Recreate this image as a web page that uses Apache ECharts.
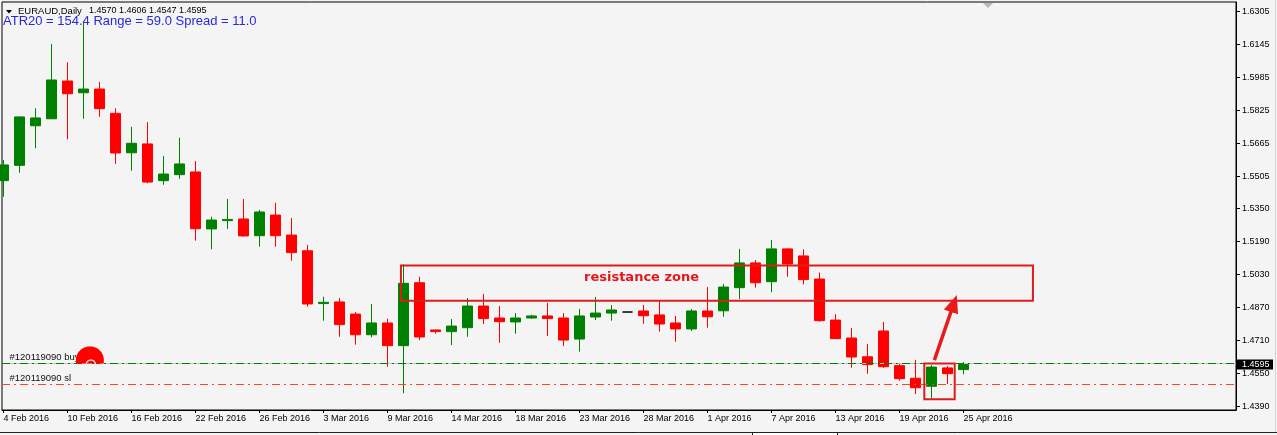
<!DOCTYPE html>
<html><head><meta charset="utf-8">
<script src="https://cdn.jsdelivr.net/npm/echarts@6/dist/echarts.min.js"></script>
<style>html,body{margin:0;padding:0;background:#f4f4f4;overflow:hidden}#c{width:1277px;height:435px}</style>
</head><body><div id="c"></div><script>
// ---- data ----
const dates = ['4 Feb 2016','5 Feb 2016','8 Feb 2016','9 Feb 2016','10 Feb 2016','11 Feb 2016','12 Feb 2016','15 Feb 2016','16 Feb 2016','17 Feb 2016','18 Feb 2016','19 Feb 2016','22 Feb 2016','23 Feb 2016','24 Feb 2016','25 Feb 2016','26 Feb 2016','29 Feb 2016','1 Mar 2016','2 Mar 2016','3 Mar 2016','4 Mar 2016','7 Mar 2016','8 Mar 2016','9 Mar 2016','10 Mar 2016','11 Mar 2016','13 Mar 2016','14 Mar 2016','15 Mar 2016','16 Mar 2016','17 Mar 2016','18 Mar 2016','20 Mar 2016','21 Mar 2016','22 Mar 2016','23 Mar 2016','24 Mar 2016','25 Mar 2016','27 Mar 2016','28 Mar 2016','29 Mar 2016','30 Mar 2016','31 Mar 2016','1 Apr 2016','4 Apr 2016','5 Apr 2016','6 Apr 2016','7 Apr 2016','8 Apr 2016','11 Apr 2016','12 Apr 2016','13 Apr 2016','14 Apr 2016','15 Apr 2016','18 Apr 2016','19 Apr 2016','20 Apr 2016','21 Apr 2016','22 Apr 2016','25 Apr 2016'];
const opens  = [1.5486,1.5560,1.5752,1.5786,1.5969,1.5912,1.5930,1.5812,1.5621,1.5664,1.5486,1.5515,1.5528,1.5252,1.5292,1.5300,1.5219,1.5319,1.5222,1.5146,1.4890,1.4898,1.4839,1.4739,1.4796,1.4686,1.4991,1.4762,1.4754,1.4773,1.4878,1.4820,1.4801,1.4820,1.4830,1.4820,1.4718,1.4825,1.4844,1.4849,1.4854,1.4835,1.4796,1.4767,1.4854,1.4855,1.4967,1.5087,1.4996,1.5155,1.5121,1.5009,1.4810,1.4723,1.4632,1.4757,1.4589,1.4528,1.4489,1.4578,1.4570];
const highs  = [1.5586,1.5797,1.5837,1.6148,1.6060,1.6255,1.5964,1.5837,1.5747,1.5770,1.5605,1.5694,1.5581,1.5311,1.5397,1.5397,1.5344,1.5379,1.5305,1.5174,1.4923,1.4917,1.4849,1.4888,1.4817,1.5080,1.5020,1.4764,1.4815,1.4917,1.4936,1.4878,1.4844,1.4836,1.4894,1.4844,1.4864,1.4922,1.4883,1.4850,1.4883,1.4902,1.4830,1.4864,1.4970,1.4985,1.5155,1.5101,1.5198,1.5158,1.5153,1.5040,1.4839,1.4771,1.4694,1.4801,1.4600,1.4616,1.4592,1.4587,1.4606];
const lows   = [1.5408,1.5524,1.5643,1.5784,1.5686,1.5786,1.5796,1.5567,1.5534,1.5473,1.5466,1.5495,1.5195,1.5153,1.5252,1.5214,1.5166,1.5166,1.5098,1.4875,1.4807,1.4729,1.4691,1.4726,1.4584,1.4455,1.4713,1.4744,1.4689,1.4729,1.4791,1.4700,1.4744,1.4817,1.4733,1.4684,1.4657,1.4810,1.4807,1.4848,1.4792,1.4754,1.4705,1.4757,1.4773,1.4826,1.4912,1.4967,1.4945,1.5020,1.4983,1.4802,1.4717,1.4579,1.4549,1.4578,1.4516,1.4452,1.4431,1.4500,1.4547];
const closes = [1.5562,1.5795,1.5790,1.5974,1.5907,1.5930,1.5835,1.5620,1.5667,1.5479,1.5518,1.5567,1.5253,1.5295,1.5298,1.5218,1.5334,1.5219,1.5137,1.4888,1.4896,1.4788,1.4739,1.4796,1.4686,1.4988,1.4728,1.4754,1.4781,1.4878,1.4817,1.4802,1.4820,1.4830,1.4817,1.4713,1.4830,1.4844,1.4859,1.4849,1.4831,1.4791,1.4767,1.4854,1.4826,1.4970,1.5087,1.4991,1.5155,1.5082,1.5006,1.4807,1.4720,1.4631,1.4594,1.4584,1.4526,1.4482,1.4582,1.4550,1.4595];
const priceTicks = [1.4390,1.4550,1.4710,1.4870,1.5030,1.5190,1.5350,1.5505,1.5665,1.5825,1.5985,1.6145,1.6305];
const dateTickIdx = [0,4,8,12,16,20,24,28,32,36,40,44,48,52,56,60];
const symbolName = 'EURAUD,Daily';
const infoText = 'ATR20 = 154.4 Range = 59.0 Spread = 11.0';
const orderBuyPrice = 1.4600, orderSlPrice = 1.4500;
const orderBuyLabel = '#120119090 buy', orderSlLabel = '#120119090 sl';
const zoneLabel = 'resistance zone';
const zone = {x0: 24.84, x1: 64.34, top: 1.5075, bottom: 1.4904};
const boxZone = {x0: 57.55, x1: 59.45, top: 1.4600, bottom: 1.4426};
const arrowFrom = [58.18, 1.4616], arrowTo = [59.58, 1.4932];
const zoneLabelAt = [36.28, 1.5014];
const blobAt = [5.40, 1.4600];

// ---- chart ----
const chart = echarts.init(document.getElementById('c'), null, {renderer: 'canvas'});
const FONT = 'Liberation Sans, Arial, sans-serif';
const last = closes.length - 1;
const bid = closes[last];

const candleData = dates.map((d, i) => {
  const v = [i, opens[i], closes[i], lows[i], highs[i]];
  if (opens[i] === closes[i]) {
    return {value: v, itemStyle: {color: '#000', color0: '#000', borderColor: '#000', borderColor0: '#000'}};
  }
  return v;
});

const option = {
  backgroundColor: '#f4f4f4',
  animation: false,
  grid: {left: 2, right: 41, top: 2, bottom: 25, show: true, borderColor: '#000', borderWidth: 1,
         backgroundColor: 'transparent', containLabel: false, outerBoundsMode: 'none'},
  xAxis: {
    type: 'value', min: -0.09375, max: 77.03125,
    axisLine: {show: true, onZero: false, lineStyle: {color: '#000', width: 1}},
    axisTick: {show: true, customValues: dateTickIdx, length: 3, lineStyle: {color: '#000'}},
    axisLabel: {show: true, customValues: dateTickIdx, formatter: v => dates[Math.round(v)] || '',
      align: 'left', margin: 4, color: '#000', fontSize: 9, fontFamily: FONT, showMinLabel: true, showMaxLabel: true},
    splitLine: {show: false}
  },
  yAxis: {
    type: 'value', position: 'right', min: 1.4374, max: 1.6352,
    axisLine: {show: true, onZero: false, lineStyle: {color: '#000', width: 1}},
    axisTick: {show: true, customValues: priceTicks, length: 4, lineStyle: {color: '#000'}},
    axisLabel: {show: true, customValues: priceTicks, formatter: v => v.toFixed(4), margin: 6,
      color: '#000', fontSize: 9, fontFamily: FONT},
    splitLine: {show: false}
  },
  series: [{
    type: 'candlestick', data: candleData, barWidth: 10, clip: true,
    itemStyle: {color: '#008000', color0: '#ff0000', borderColor: '#008000', borderColor0: '#ff0000', borderWidth: 1},
    markLine: {
      silent: true, symbol: ['none', 'none'], label: {show: false}, animation: false,
      data: [
        {yAxis: bid, lineStyle: {color: '#c0c0c0', width: 1, type: 'solid'}},
        {yAxis: orderBuyPrice, lineStyle: {color: '#008000', width: 1, type: [8, 4, 2, 4]}},
        {yAxis: orderSlPrice, lineStyle: {color: '#f04a24', width: 1, type: [8, 4, 2, 4]}}
      ]
    }
  }]
};
chart.setOption(option);

const P = (x, y) => chart.convertToPixel({gridIndex: 0}, [x, y]);
const yOf = y => P(0, y)[1];

const g = [];
// header
g.push({type: 'polygon', shape: {points: [[6, 10], [12, 10], [9, 13.5]]}, style: {fill: '#000'}, z: 5});
g.push({type: 'text', x: 18, y: 11, style: {text: symbolName, fill: '#000', font: '9.5px ' + FONT, textVerticalAlign: 'middle'}, z: 5});
g.push({type: 'text', x: 89, y: 11, style: {text: [opens[last], highs[last], lows[last], closes[last]].map(v => v.toFixed(4)).join(' '),
  fill: '#000', font: '9px ' + FONT, textVerticalAlign: 'middle'}, z: 5});
g.push({type: 'text', x: 3, y: 21.7, style: {text: infoText, fill: '#2828dc', font: '13px ' + FONT, textVerticalAlign: 'middle'}, z: 0});
// shift marker
g.push({type: 'polygon', shape: {points: [[983, 3], [993, 3], [988, 8]]}, style: {fill: '#b8b8b8'}, z: 5});
// order labels
const yBuy = yOf(orderBuyPrice), ySl = yOf(orderSlPrice);
g.push({type: 'text', x: 9.5, y: yBuy - 6, style: {text: orderBuyLabel, fill: '#111', font: '9.5px ' + FONT, textVerticalAlign: 'middle'}, z: 5});
g.push({type: 'text', x: 9.5, y: ySl - 6, style: {text: orderSlLabel, fill: '#111', font: '9.5px ' + FONT, textVerticalAlign: 'middle'}, z: 5});
// red blob marker
const bp = P(blobAt[0], blobAt[1]);
const cx = bp[0], cy = bp[1] - 3, r = 14;
const a0 = Math.PI - Math.asin(3 / r), a1 = 2 * Math.PI + Math.asin(3 / r);
const blobPts = [];
for (let k = 0; k <= 40; k++) { const t = a0 + (a1 - a0) * k / 40; blobPts.push([cx + r * Math.cos(t), cy + r * Math.sin(t)]); }
g.push({type: 'polygon', shape: {points: blobPts}, style: {fill: '#ff0000'}, z: 20});
g.push({type: 'arc', shape: {cx: cx + 1, cy: bp[1] + 1, r: 4.5, startAngle: Math.PI, endAngle: 2 * Math.PI}, style: {stroke: '#f8dcdc', lineWidth: 1.5, fill: null}, z: 21});
// resistance zone
const z0 = P(zone.x0, zone.top), z1 = P(zone.x1, zone.bottom);
g.push({type: 'rect', shape: {x: z0[0], y: z0[1], width: z1[0] - z0[0], height: z1[1] - z0[1]},
  style: {fill: null, stroke: '#e01b1b', lineWidth: 2}, z: 20});
const zl = P(zoneLabelAt[0], zoneLabelAt[1]);
g.push({type: 'text', x: zl[0], y: zl[1], style: {text: zoneLabel, fill: '#e8141c', font: 'bold 13px DejaVu Sans, sans-serif', textVerticalAlign: 'middle'}, z: 20});
// small box
const b0 = P(boxZone.x0, boxZone.top), b1 = P(boxZone.x1, boxZone.bottom);
g.push({type: 'rect', shape: {x: b0[0], y: b0[1], width: b1[0] - b0[0], height: b1[1] - b0[1]},
  style: {fill: null, stroke: '#e01b1b', lineWidth: 2}, z: 20});
// arrow
const s = P(arrowFrom[0], arrowFrom[1]), t = P(arrowTo[0], arrowTo[1]);
const dx = t[0] - s[0], dy = t[1] - s[1], L = Math.hypot(dx, dy), ux = dx / L, uy = dy / L;
const headLen = 18, headHalf = 7.5;
const bx = t[0] - ux * headLen, by = t[1] - uy * headLen;
g.push({type: 'line', shape: {x1: s[0], y1: s[1], x2: bx + ux * 2, y2: by + uy * 2}, style: {stroke: '#e81a1a', lineWidth: 3.5}, z: 20});
g.push({type: 'polygon', shape: {points: [[t[0], t[1]], [bx - uy * headHalf, by + ux * headHalf], [bx + uy * headHalf, by - ux * headHalf]]},
  style: {fill: '#e81a1a'}, z: 20});
// bid price tag
const yb = yOf(bid);
g.push({type: 'rect', shape: {x: 1237, y: yb - 5, width: 36, height: 10}, style: {fill: '#000'}, z: 30});
g.push({type: 'text', x: 1242, y: yb, style: {text: bid.toFixed(4), fill: '#fff', font: '9px ' + FONT, textVerticalAlign: 'middle'}, z: 31});
// window bottom / right edges
g.push({type: 'line', shape: {x1: 0, y1: 432.5, x2: 1277, y2: 432.5}, style: {stroke: '#222', lineWidth: 1}, z: 5});
g.push({type: 'rect', shape: {x: 752, y: 433, width: 85, height: 2}, style: {fill: '#ffffff'}, z: 6});
g.push({type: 'line', shape: {x1: 752.5, y1: 432, x2: 752.5, y2: 435}, style: {stroke: '#222', lineWidth: 1}, z: 6});
g.push({type: 'line', shape: {x1: 837.5, y1: 432, x2: 837.5, y2: 435}, style: {stroke: '#222', lineWidth: 1}, z: 6});
g.push({type: 'line', shape: {x1: 1275.5, y1: 0, x2: 1275.5, y2: 432}, style: {stroke: '#d4d4d4', lineWidth: 1}, z: 5});

chart.setOption({graphic: {elements: g}});
</script></body></html>
